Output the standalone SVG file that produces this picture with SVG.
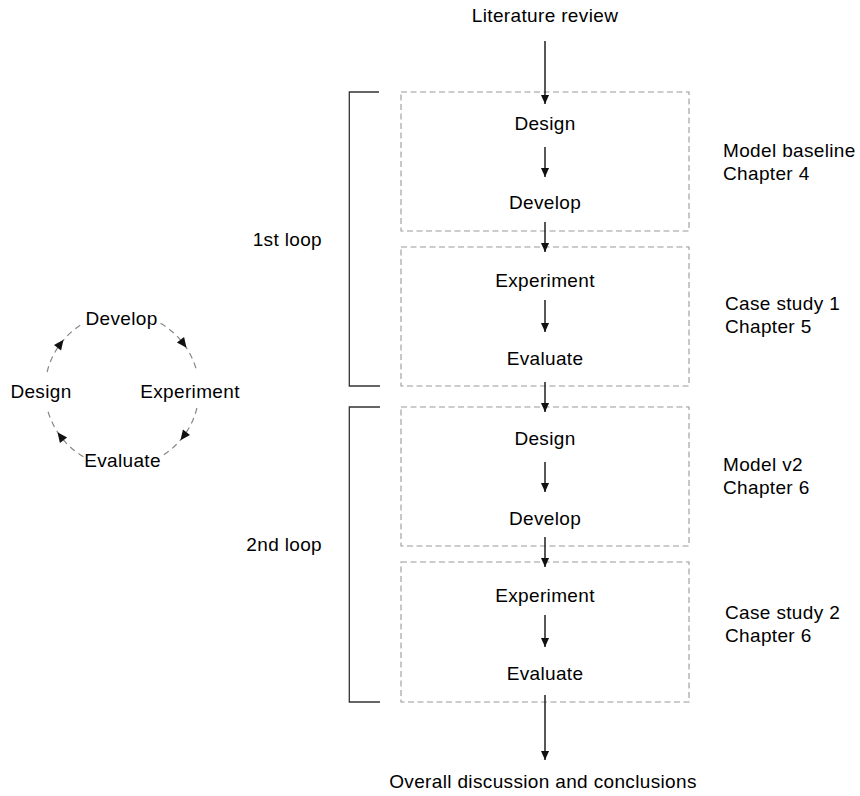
<svg xmlns="http://www.w3.org/2000/svg" width="860" height="796" viewBox="0 0 860 796">
<style>
text{font-family:"Liberation Sans",Arial,Helvetica,sans-serif;font-size:19px;fill:#000;letter-spacing:0.35px}
.c{text-anchor:middle}
.e{text-anchor:end}
.box{fill:none;stroke:#9a9a9a;stroke-width:1.1;stroke-dasharray:6 3.5}
.arr{fill:none;stroke:#111;stroke-width:1.4;marker-end:url(#ah)}
.br{fill:none;stroke:#333;stroke-width:1.3}
.arc{fill:none;stroke:#888;stroke-width:1.2;stroke-dasharray:6 4.5;marker-mid:url(#ah2)}
</style>
<defs>
<marker id="ah" viewBox="0 0 10 10" refX="10" refY="5" markerWidth="10" markerHeight="9" markerUnits="userSpaceOnUse" orient="auto">
<path d="M0,0.5 L10,5 L0,9.5 Z" fill="#111"/>
</marker>
<marker id="ah2" viewBox="0 0 10 10" refX="5" refY="5" markerWidth="11" markerHeight="10" markerUnits="userSpaceOnUse" orient="auto">
<path d="M0,0.5 L10,5 L0,9.5 Z" fill="#111"/>
</marker>
</defs>

<g id="cycle">
<g id="cycle-arcs">
<path class="arc" d="M47.1,372 A77,77 0 0 1 60.5,343.7 A77,77 0 0 1 83.5,323.3"/>
<path class="arc" d="M160.5,323.3 A77,77 0 0 1 183.5,343.7 A77,77 0 0 1 196.9,372"/>
<path class="arc" d="M196.9,408 A77,77 0 0 1 183.5,436.3 A77,77 0 0 1 160.5,456.7"/>
<path class="arc" d="M83.5,456.7 A77,77 0 0 1 60.5,436.3 A77,77 0 0 1 47.1,408"/>
</g>
<g id="c-develop"><text class="c" x="121.5" y="325">Develop</text></g>
<g id="c-design"><text class="c" x="41" y="398">Design</text></g>
<g id="c-experiment"><text class="c" x="190" y="398">Experiment</text></g>
<g id="c-evaluate"><text class="c" x="122.5" y="467">Evaluate</text></g>
</g>

<g id="brackets">
<path class="br" d="M379,92 H349.3 V386 H380"/>
<path class="br" d="M380,407 H349.3 V702 H380"/>
<text class="e" x="322" y="246">1st loop</text>
<text class="e" x="322" y="551">2nd loop</text>
</g>

<g id="lit"><text class="c" x="545" y="22">Literature review</text></g>

<g id="box1">
<rect class="box" x="401" y="92" width="288" height="139"/>
<text class="c" x="545" y="130">Design</text>
<text class="c" x="545" y="209">Develop</text>
</g>
<g id="box2">
<rect class="box" x="401" y="247" width="288" height="139"/>
<text class="c" x="545" y="287">Experiment</text>
<text class="c" x="545" y="365">Evaluate</text>
</g>
<g id="box3">
<rect class="box" x="401" y="407" width="288" height="139"/>
<text class="c" x="545" y="445">Design</text>
<text class="c" x="545" y="525">Develop</text>
</g>
<g id="box4">
<rect class="box" x="401" y="562" width="288" height="140"/>
<text class="c" x="545" y="602">Experiment</text>
<text class="c" x="545" y="680">Evaluate</text>
</g>

<g id="end"><text class="c" x="543" y="788">Overall discussion and conclusions</text></g>

<g id="labels">
<text x="723" y="157">Model baseline</text>
<text x="723" y="180">Chapter 4</text>
<text x="725" y="310">Case study 1</text>
<text x="725" y="333">Chapter 5</text>
<text x="723" y="471">Model v2</text>
<text x="723" y="494">Chapter 6</text>
<text x="725" y="619">Case study 2</text>
<text x="725" y="642">Chapter 6</text>
</g>

<g id="connectors">
<path class="arr" d="M545,41 V104"/>
<path class="arr" d="M545,147 V177"/>
<path class="arr" d="M545,222 V252"/>
<path class="arr" d="M545,300 V332"/>
<path class="arr" d="M545,382 V412"/>
<path class="arr" d="M545,462 V492"/>
<path class="arr" d="M545,537 V567"/>
<path class="arr" d="M545,615 V647"/>
<path class="arr" d="M545,695 V760"/>
</g>
</svg>
